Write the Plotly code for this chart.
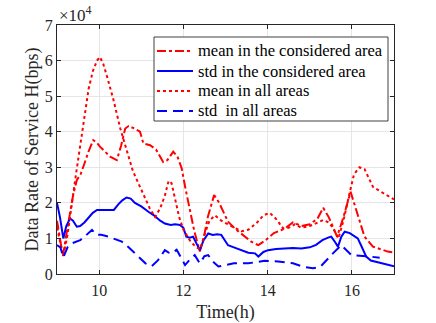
import plotly.graph_objs as go

# mean in the considered area (dash-dot red)
mean_area_t = [9.0, 9.07, 9.14, 9.22, 9.3, 9.38, 9.47, 9.56, 9.65, 9.75, 9.86, 9.94, 10.02, 10.14, 10.26, 10.42,
               10.52, 10.62, 10.7, 10.82, 10.97, 11.05, 11.21, 11.35, 11.52, 11.62, 11.76, 11.86, 11.96, 12.05,
               12.15, 12.26, 12.39, 12.48, 12.58, 12.73, 12.85, 13.06, 13.25, 13.45, 13.62, 13.78, 13.95, 14.15,
               14.41, 14.6, 14.8, 15.0, 15.18, 15.32, 15.45, 15.65, 15.8, 15.97, 16.1, 16.3, 16.5, 16.7, 16.85, 17.0]
mean_area = [1.5, 0.95, 0.5, 1.1, 1.7, 2.2, 2.64, 2.8, 3.1, 3.45, 3.76, 3.7, 3.58, 3.45, 3.3, 3.2,
             3.6, 4.09, 4.16, 4.1, 4.0, 3.67, 3.62, 3.5, 3.15, 3.2, 3.44, 3.3, 2.97, 2.4,
             1.8, 1.2, 0.63, 1.0, 1.6, 2.22, 2.0, 1.47, 1.25, 1.05, 0.9, 0.81, 0.95, 1.15,
             1.28, 1.45, 1.35, 1.4, 1.55, 1.86, 1.6, 1.05, 1.6, 2.31, 1.8, 1.05, 0.77, 0.68, 0.63, 0.6]

# std in the considered area (solid blue)
std_area_t = [9.0, 9.07, 9.15, 9.22, 9.31, 9.38, 9.47, 9.55, 9.65, 9.75, 9.85, 9.95, 10.1, 10.26, 10.35, 10.45,
              10.55, 10.65, 10.75, 10.85, 11.0, 11.17, 11.3, 11.45, 11.56, 11.7, 11.8, 11.92, 12.0, 12.07,
              12.15, 12.23, 12.31, 12.39, 12.48, 12.59, 12.7, 12.8, 12.9, 12.98, 13.06, 13.2, 13.35, 13.54,
              13.7, 13.78, 13.9, 14.01, 14.2, 14.41, 14.6, 14.8, 15.0, 15.15, 15.3, 15.45, 15.51, 15.6, 15.67,
              15.75, 15.83, 15.95, 16.05, 16.14, 16.22, 16.34, 16.45, 16.66, 16.85, 17.0]
std_area = [2.0, 1.6, 1.0, 1.35, 1.56, 1.5, 1.33, 1.35, 1.45, 1.6, 1.72, 1.8, 1.8, 1.78, 1.8, 1.95,
            2.07, 2.15, 2.12, 2.0, 1.9, 1.75, 1.65, 1.5, 1.42, 1.38, 1.4, 1.38, 1.3, 1.05,
            1.02, 1.05, 0.85, 0.67, 0.95, 1.14, 1.1, 1.12, 1.1, 0.95, 0.81, 0.75, 0.68, 0.6,
            0.58, 0.49, 0.62, 0.67, 0.7, 0.72, 0.73, 0.72, 0.75, 0.82, 0.95, 1.03, 1.05, 0.9, 0.77,
            1.05, 1.19, 1.15, 1.08, 1.0, 0.8, 0.49, 0.38, 0.32, 0.28, 0.22]

# mean in all areas (dotted red)
mean_all_t = [9.0, 9.08, 9.15, 9.25, 9.35, 9.45, 9.55, 9.65, 9.75, 9.85, 9.95, 10.02, 10.1, 10.2, 10.34, 10.5,
              10.66, 10.8, 10.97, 11.1, 11.2, 11.33, 11.45, 11.56, 11.65, 11.72, 11.8, 11.9, 12.0, 12.15,
              12.3, 12.4, 12.5, 12.62, 12.75, 12.9, 13.05, 13.2, 13.38, 13.55, 13.75, 13.9, 14.05, 14.2,
              14.37, 14.5, 14.65, 14.8, 15.0, 15.2, 15.32, 15.45, 15.55, 15.68, 15.8, 15.95, 16.05, 16.18,
              16.3, 16.5, 16.7, 16.85, 17.0]
mean_all = [1.3, 0.9, 0.5, 1.1, 2.0, 2.8, 3.6, 4.4, 5.2, 5.7, 6.0, 6.1, 5.9, 5.5, 4.9, 4.1,
            3.45, 2.9, 2.45, 2.1, 1.85, 1.6, 1.85, 2.2, 2.62, 2.55, 2.1, 1.6, 1.25, 0.95,
            0.75, 0.7, 1.1, 1.5, 1.65, 1.5, 1.4, 1.3, 1.2, 1.25, 1.45, 1.65, 1.72, 1.55,
            1.28, 1.3, 1.4, 1.3, 1.35, 1.45, 1.52, 1.45, 1.3, 1.0, 1.5, 2.3, 2.8, 3.0,
            2.95, 2.45, 2.3, 2.2, 2.1]

# std in all areas (dashed blue)
std_all_t = [9.0, 9.08, 9.15, 9.25, 9.35, 9.55, 9.7, 9.83, 9.94, 10.05, 10.22, 10.4, 10.54, 10.7, 10.93, 11.1,
             11.25, 11.4, 11.56, 11.65, 11.72, 11.84, 11.95, 12.04, 12.15, 12.27, 12.39, 12.5, 12.59, 12.7,
             12.83, 13.0, 13.2, 13.54, 13.93, 14.25, 14.6, 14.85, 15.08, 15.25, 15.4, 15.55, 15.75, 15.85,
             15.99, 16.34, 16.66]
std_all = [0.81, 0.75, 0.47, 0.75, 0.86, 0.95, 1.1, 1.24, 1.1, 1.1, 1.05, 0.98, 0.91, 0.75, 0.49, 0.3,
           0.22, 0.39, 0.67, 0.6, 0.58, 0.68, 0.45, 0.25, 0.4, 0.53, 0.3, 0.5, 0.53, 0.35,
           0.21, 0.25, 0.3, 0.3, 0.37, 0.35, 0.3, 0.2, 0.16, 0.2, 0.4, 0.58, 0.81, 0.7,
           0.53, 0.5, 0.46]

x_ticks = [10, 12, 14, 16]
y_ticks = [0, 1, 2, 3, 4, 5, 6, 7]
scale = 1e4

font = '"Liberation Serif", "Times New Roman", "DejaVu Serif", serif'
axis_col = '#262626'

series = [
    ('mean in the considered area', mean_area_t, mean_area, '#ff0000', 'dashdot'),
    ('std in the considered area', std_area_t, std_area, '#0000ff', 'solid'),
    ('mean in all areas', mean_all_t, mean_all, '#ff0000', 'dot'),
    ('std  in all areas', std_all_t, std_all, '#0000ff', '10px,6px'),
]

W, H = 436, 323
L, R, T, B = 57, 42, 25, 49

def px_x(p):
    return (p - L) / (W - L - R)

def px_y(p):
    return (H - B - p) / (H - T - B)

fig = go.Figure()
for name, t, v, col, dash in series:
    fig.add_trace(go.Scatter(
        x=t, y=[val * scale for val in v], name=name, mode='lines',
        line=dict(color=col, width=2, dash=dash),
    ))

axis_style = dict(
    showline=True, mirror='ticks', linecolor=axis_col, linewidth=1,
    ticks='inside', ticklen=4, tickcolor=axis_col,
    showgrid=True, gridcolor='#e6e6e6', zeroline=False, automargin=False,
    tickfont=dict(family=font, size=16, color=axis_col),
)

fig.update_xaxes(range=[9, 17], tickvals=x_ticks, ticktext=[str(x) for x in x_ticks],
                 ticklabelstandoff=2,
                 title=dict(text='Time(h)', font=dict(family=font, size=18, color=axis_col), standoff=7),
                 **axis_style)
fig.update_yaxes(range=[0, 7 * scale], tickvals=[y * scale for y in y_ticks], ticktext=[str(y) for y in y_ticks],
                 title=dict(text='Data Rate of Service H(bps)', font=dict(family=font, size=18, color=axis_col), standoff=1),
                 **axis_style)

fig.add_annotation(text='×10<sup>4</sup>', xref='paper', yref='paper', x=0.0, y=1.0,
                   xanchor='left', yanchor='bottom', yshift=-2, showarrow=False,
                   font=dict(family=font, size=17, color=axis_col))

# legend box drawn by hand so the row spacing matches the MATLAB legend
fig.add_shape(type='rect', xref='paper', yref='paper', layer='above',
              x0=px_x(154), x1=px_x(388), y0=px_y(121), y1=px_y(37),
              fillcolor='white', line=dict(color='#404040', width=1))
row_y = [51, 71, 91, 111]
for (name, t, v, col, dash), ry in zip(series, row_y):
    fig.add_shape(type='line', xref='paper', yref='paper', layer='above',
                  x0=px_x(157), x1=px_x(193), y0=px_y(ry), y1=px_y(ry),
                  line=dict(color=col, width=2, dash=dash))
    fig.add_annotation(text=name, xref='paper', yref='paper', x=px_x(196), y=px_y(ry),
                       xanchor='left', yanchor='middle', showarrow=False,
                       font=dict(family=font, size=16.5, color='black'))

fig.update_layout(
    width=W, height=H,
    margin=dict(l=L, r=R, t=T, b=B),
    plot_bgcolor='white', paper_bgcolor='white',
    font=dict(family=font),
    showlegend=False,
)

fig.write_html('out.html', config={'displayModeBar': False},
               post_script="document.body.style.margin='0';")
